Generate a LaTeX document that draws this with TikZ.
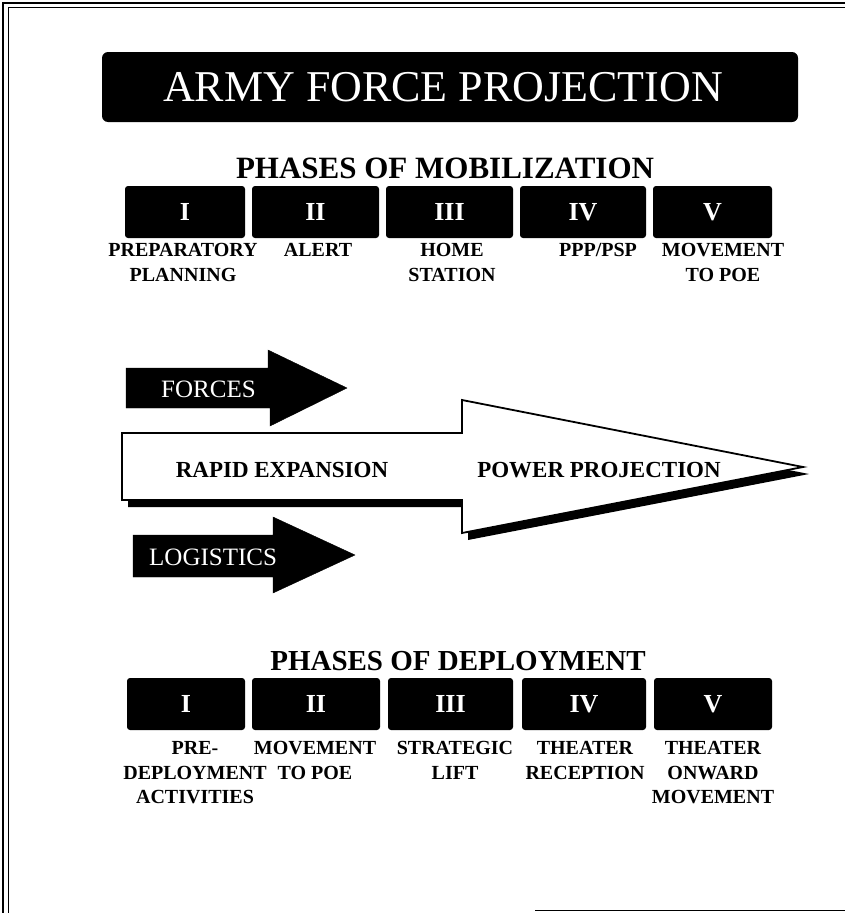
\documentclass[tikz,border=0pt]{standalone}
\usepackage{fontspec}
\setmainfont{Liberation Serif}
\usepackage{tikz}

\tikzset{
  phasebox/.style={fill=black, rounded corners=3pt, text=white, inner sep=0pt,
    minimum height=52pt, font=\fontsize{26}{26}\selectfont\bfseries},
  phaselabel/.style={anchor=north, align=center, inner sep=0pt,
    font=\fontsize{20}{24.5}\selectfont\bfseries},
  phasetitle/.style={inner sep=0pt, font=\fontsize{30}{30}\selectfont\bfseries},
  flowtext/.style={inner sep=0pt, font=\fontsize{23}{23}\selectfont\bfseries},
  flowlabel/.style={inner sep=0pt, anchor=west, text=white, font=\fontsize{25}{25}\selectfont}
}

\begin{document}
\begin{tikzpicture}[x=1pt, y=-1pt]

    %% Background
    \useasboundingbox (0,0) rectangle (845,913);

    %% Frame
    \draw[line width=2pt] (3,913) -- (3,3) -- (845,3);
    \draw[line width=0.8pt] (8.5,913) -- (8.5,7.5) -- (845,7.5);
    \draw[line width=0.8pt] (535,910) -- (845,910);

    %% Title
    \node[fill=black, rounded corners=6pt, minimum width=696pt, minimum height=70pt,
      inner sep=0pt] (title) at (450,87) {};
    \node[text=white, inner sep=0pt, font=\fontsize{44}{44}\selectfont] (titletext)
      at (443,87) {ARMY FORCE PROJECTION};

    %% Mobilization
    \node[phasetitle, font=\fontsize{31}{31}\selectfont\bfseries] (mobtitle) at (445,168)
      {PHASES OF MOBILIZATION};

    \foreach \n/\l/\r in {I/125/245, II/252/379, III/386/513, IV/520/646, V/653/772}
    {
    \node[phasebox, minimum width={\r-\l}] (mob\n) at ({(\l+\r)/2},212) {\n};
    }

    \foreach \x/\t [count=\i] in {183/{PREPARATORY\\PLANNING}, 318/ALERT, 452/{HOME\\STATION},
      598/{PPP/PSP}, 723/{MOVEMENT\\TO POE}}
    {
    \node[phaselabel] (mobtext\i) at (\x,243.4) {\t};
    }

    %% Forces and logistics
    \draw[fill=black] (126,368) -- (268,368) -- (268,350) -- (347,388) -- (270,426)
      -- (270,408) -- (126,408) -- cycle;
    \node[flowlabel] (forces) at (161,389) {FORCES};

    \draw[fill=black] (133,535) -- (273,535) -- (273,517) -- (355,555) -- (273,593)
      -- (273,577) -- (133,577) -- cycle;
    \node[flowlabel] (logistics) at (149,557) {LOGISTICS};

    %% Big arrow
    \fill[xshift=6pt, yshift=-7pt] (122,433) -- (462,433) -- (462,400) -- (803,467)
      -- (462,533) -- (462,500) -- (122,500) -- cycle;
    \draw[fill=white, line width=1.8pt] (122,433) -- (462,433) -- (462,400) -- (803,467)
      -- (462,533) -- (462,500) -- (122,500) -- cycle;
    \node[flowtext] (rapid) at (282,470) {RAPID EXPANSION};
    \node[flowtext] (power) at (599,470) {POWER PROJECTION};

    %% Deployment
    \node[phasetitle, font=\fontsize{29}{29}\selectfont\bfseries] (deptitle) at (458,661)
      {PHASES OF DEPLOYMENT};

    \foreach \n/\l/\r in {I/127/245, II/252/380, III/388/513, IV/522/646, V/654/772}
    {
    \node[phasebox, minimum width={\r-\l}] (dep\n) at ({(\l+\r)/2},704) {\n};
    }

    \foreach \x/\t [count=\i] in {195/{PRE-\\DEPLOYMENT\\ACTIVITIES}, 315/{MOVEMENT\\TO POE},
      455/{STRATEGIC\\LIFT}, 585/{THEATER\\RECEPTION}, 713/{THEATER\\ONWARD\\MOVEMENT}}
    {
    \node[phaselabel] (deptext\i) at (\x,741.4) {\t};
    }

\end{tikzpicture}
\end{document}
